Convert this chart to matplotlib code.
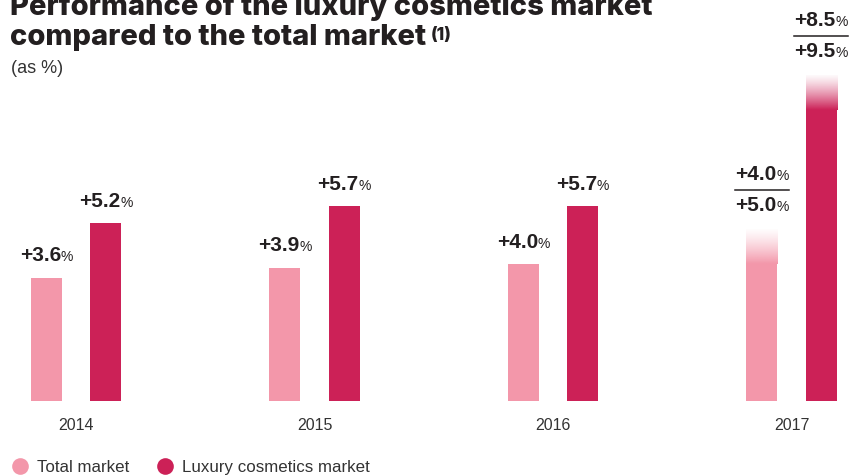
import matplotlib
matplotlib.use("Agg")
import matplotlib.pyplot as plt
import numpy as np
from matplotlib.lines import Line2D
from matplotlib.transforms import offset_copy

years = ["2014", "2015", "2016", "2017"]
total_low = [3.6, 3.9, 4.0, 4.0]
total_high = [3.6, 3.9, 4.0, 5.0]
luxury_low = [5.2, 5.7, 5.7, 8.5]
luxury_high = [5.2, 5.7, 5.7, 9.5]
series_names = ["Total market", "Luxury cosmetics market"]

PINK = "#f397aa"
CRIMSON = "#cc2157"
INK = "#231f20"
GREY = "#333333"
BODY = "Liberation Sans"
TITLE = "Inter"
PX = 0.72  # points per pixel at dpi 100

fig = plt.figure(figsize=(8.6, 4.76), dpi=100)
ax = fig.add_axes([0, 75 / 476, 1, 401 / 476])
ax.axis("off")
# limits first, so labels can be measured before saving
ax.set_xlim(-0.3187, 3.287)
ax.set_ylim(0, 401 / 34.2)
ax.set_autoscale_on(False)

x = np.arange(len(years))
off = 0.124
w = 0.13
renderer = fig.canvas.get_renderer()


def value_label(xc, y, val, dy_px):
    kw = dict(xy=(xc, y), textcoords="offset points", va="baseline", color=INK,
              family=BODY, annotation_clip=False)
    t1 = ax.annotate(f"+{val:.1f}", xytext=(0, dy_px * PX), ha="right",
                     fontsize=15, fontweight="bold", **kw)
    t2 = ax.annotate("%", xytext=(0, dy_px * PX), ha="left", fontsize=10, **kw)
    w1 = t1.get_window_extent(renderer).width
    w2 = t2.get_window_extent(renderer).width
    shift = (w1 - w2) / 2 * PX
    t1.xyann = (shift, dy_px * PX)
    t2.xyann = (shift, dy_px * PX)


def draw_series(xs, lows, highs, color):
    ax.bar(xs, lows, width=w, color=color, linewidth=0)
    rgb = matplotlib.colors.to_rgb(color)
    for xc, lo, hi in zip(xs, lows, highs):
        if hi > lo:
            n = 64
            alpha = np.linspace(1, 0.06, n) ** 1.3
            img = np.zeros((n, 1, 4))
            img[:, 0, :3] = rgb
            img[:, 0, 3] = alpha
            ax.imshow(img, extent=[xc - w / 2, xc + w / 2, lo, hi], origin="lower",
                      aspect="auto", interpolation="bilinear", zorder=2)
            value_label(xc, hi, hi, 19)
            value_label(xc, hi, lo, 50)
            tr = offset_copy(ax.transData, fig=fig, y=40 * PX, units="points")
            ax.plot([xc - 0.113, xc + 0.113], [hi, hi], color=INK, lw=1.1, transform=tr)
        else:
            value_label(xc, lo, lo, 16.5)


draw_series(x - off, total_low, total_high, PINK)
draw_series(x + off, luxury_low, luxury_high, CRIMSON)

for xi, yr in zip(x, years):
    ax.annotate(yr, xy=(xi, 0), xytext=(0, -29 * PX), textcoords="offset points",
                ha="center", va="baseline", fontsize=11.5, color=GREY, family=BODY,
                annotation_clip=False)

# title (first line runs off the top edge, as in the source)
title_kw = dict(fontsize=21, fontweight="heavy", family=TITLE, color=INK, va="baseline")
fig.text(10 / 860, 1 - 15 / 476, "Performance of the luxury cosmetics market", **title_kw)
t_b = fig.text(10 / 860, 1 - 45 / 476, "compared to the total market", **title_kw)
ax.annotate("(1)", xy=(1, 1), xycoords=t_b, xytext=(3, -2), textcoords="offset points",
            ha="left", va="top", fontsize=12.5, fontweight="heavy", family=TITLE, color=INK)
fig.text(11 / 860, 1 - 73 / 476, "(as %)", fontsize=13, family=BODY, color=GREY,
         va="baseline")

handles = [Line2D([], [], marker="o", ls="", markersize=12, color=c, markeredgewidth=0)
           for c in (PINK, CRIMSON)]
leg = fig.legend(handles, series_names, loc="lower left", bbox_to_anchor=(12 / 860, 1 / 476),
                 frameon=False, ncol=2, handletextpad=0.5, columnspacing=1.6,
                 handlelength=1.0, borderaxespad=0, borderpad=0,
                 prop={"family": BODY, "size": 12.2})
for txt in leg.get_texts():
    txt.set_color(GREY)

fig.savefig("out.png", dpi=100)
